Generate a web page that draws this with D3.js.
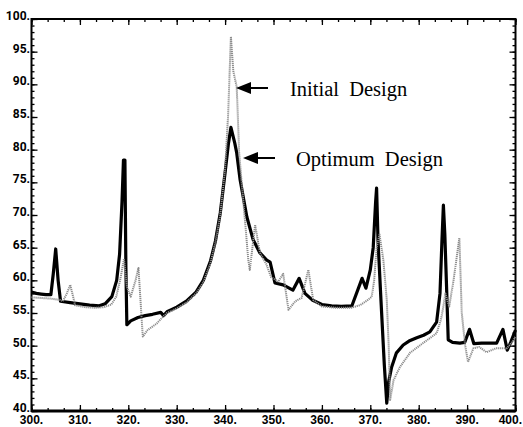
<!DOCTYPE html>
<html>
<head>
<meta charset="utf-8">
<script src="https://cdn.jsdelivr.net/npm/d3@7"></script>
<style>
  body { margin: 0; background: #fff; }
  svg { display: block; }
  .tick-label { font-family: "Liberation Sans", Arial, sans-serif; font-size: 12px; font-weight: bold; fill: #000; }
  .note { font-family: "Liberation Serif", "Times New Roman", serif; font-size: 20.5px; fill: #000; white-space: pre; }
</style>
</head>
<body>
<div id="chart"></div>
<script>
// Chart data
var optFreq = [300, 301, 302, 303, 304, 304.5, 305, 305.5, 306, 308, 310, 312, 314, 315.2, 316.6, 317.6, 318.2, 318.7, 319, 319.3, 319.5, 319.7,
  320.5, 322, 323.5, 325, 326.7, 327.3, 328, 330, 332, 334, 335.5, 337, 338, 339, 340, 340.7, 341.2, 342, 342.4, 343.1, 344.5, 345.8,
  347.2, 348.6, 349.3, 350.3, 352, 354, 355.3, 356.5, 358, 360, 362, 364, 366.2, 368.3, 369.1, 370, 370.6, 371.1, 371.3, 371.6, 372.2,
  372.9, 373.4, 373.8, 374.4, 375.4, 376.8, 378, 379.6, 381, 382.3, 383.7, 384.4, 384.8, 385.1, 385.4, 385.8, 386.1, 387, 388.5, 389.5,
  390.5, 391.4, 393, 396.1, 397.4, 398.3, 399, 400];
var optValue = [58.2, 58.0, 57.9, 57.8, 57.8, 61, 64.8, 60, 56.8, 56.6, 56.4, 56.2, 56.1, 56.4, 57.5, 60, 64, 72, 78.4, 78.4, 62, 53.2,
  53.8, 54.3, 54.6, 54.8, 55.1, 54.6, 55.2, 55.9, 56.8, 58.2, 60, 63, 66, 70.3, 76.5, 81, 83.4, 81, 79.5, 75.4, 69.7, 66.2,
  64.2, 63.1, 62.8, 59.6, 59.3, 58.5, 60.3, 58, 57, 56.3, 56.1, 56.0, 56.1, 60.3, 58.8, 61.6, 65, 72, 74.1, 66, 57,
  47, 41.2, 44.5, 46.7, 48.9, 50.1, 50.7, 51.2, 51.6, 52.1, 53.6, 58, 66, 71.5, 67, 58, 50.9, 50.5, 50.4, 50.5,
  52.5, 50.3, 50.4, 50.4, 52.5, 49.3, 50.5, 52.4];

var initFreq = [300, 302, 304, 306, 306.5, 307.3, 308, 308.6, 309, 311, 313, 315, 316.5, 317.5, 318.3, 318.8, 319.1, 319.7, 320.5, 321.5,
  322.1, 322.6, 323, 324, 325.9, 327, 328, 330, 332, 334, 335.5, 337, 338, 339, 340, 340.6, 341.2, 341.7, 342.4, 342.9, 343.8, 344.8,
  345.1, 346.2, 347.2, 348.5, 349.5, 351, 352, 353.1, 354.5, 355.8, 357.2, 358.2, 360, 363, 366, 367.9, 369.5, 370.3, 370.8, 371.3,
  371.9, 372.7, 373.4, 373.8, 374.1, 374.8, 376.1, 378.2, 380.9, 383.7, 384.6, 385.1, 385.5, 386.3, 387.2, 388.4, 388.9, 389.6, 390.2,
  391.3, 392.5, 394, 396, 398.2, 399.3, 400];
var initValue = [57.4, 57.3, 57.2, 57.0, 56.8, 58, 59.3, 57.5, 56.2, 55.9, 55.8, 55.9, 56.3, 57.5, 60, 62, 63.3, 59, 57.5, 60,
  61.9, 56, 51.4, 52.4, 53.4, 54.3, 55, 55.7, 56.6, 58, 59.7, 62.7, 65.8, 70, 77, 85, 97.3, 92, 89.6, 79.5, 71.8, 63.1,
  61.6, 68.5, 64.2, 62.5, 60.5, 59.8, 61, 55.5, 56.8, 57.3, 61.6, 57, 56, 55.8, 55.8, 56.2, 57, 57.5, 60, 65,
  67, 63.1, 57, 50, 41.7, 44.7, 46.7, 48.9, 50.4, 51.9, 54, 56, 58, 56, 60, 66.5, 55, 50, 47.5,
  49.6, 49.8, 49, 49.6, 49.6, 50.5, 51.3];

var xTicks = [300, 310, 320, 330, 340, 350, 360, 370, 380, 390, 400];
var yTicks = [40, 45, 50, 55, 60, 65, 70, 75, 80, 85, 90, 95, 100];

var width = 523, height = 427;
var margin = { top: 19, right: 7.5, bottom: 16, left: 31.5 };

var svg = d3.select("#chart").append("svg")
    .attr("width", width)
    .attr("height", height);

var x = d3.scaleLinear().domain([300, 400]).range([margin.left, width - margin.right]);
var y = d3.scaleLinear().domain([40, 100]).range([height - margin.bottom, margin.top]);

var fmt = function(d) { return d + "."; };

// minor ticks
var xMinor = d3.range(300, 400.01, 10 / 3);
var yMinor = d3.range(40, 100.01, 1);

function ticks(axis, tx, ty, values, size) {
    svg.append("g")
        .attr("transform", "translate(" + tx + "," + ty + ")")
        .call(axis.tickValues(values).tickSize(size).tickFormat(""))
        .call(g => g.select(".domain").remove())
        .call(g => g.selectAll(".tick line").attr("stroke", "#000").attr("stroke-width", 1.3));
}

ticks(d3.axisBottom(x), 0, y(40), xMinor, -3);
ticks(d3.axisBottom(x), 0, y(40), xTicks, -6);
ticks(d3.axisTop(x), 0, y(100), xMinor, -3);
ticks(d3.axisTop(x), 0, y(100), xTicks, -6);
ticks(d3.axisLeft(y), x(300), 0, yMinor, -3);
ticks(d3.axisLeft(y), x(300), 0, yTicks, -6);
ticks(d3.axisRight(y), x(400), 0, yMinor, -3);
ticks(d3.axisRight(y), x(400), 0, yTicks, -6);

// frame
svg.append("rect")
    .attr("x", x(300)).attr("y", y(100))
    .attr("width", x(400) - x(300)).attr("height", y(40) - y(100))
    .attr("fill", "none").attr("stroke", "#000").attr("stroke-width", 2);
svg.append("line")
    .attr("x1", x(300)).attr("x2", x(400)).attr("y1", y(40)).attr("y2", y(40))
    .attr("stroke", "#000").attr("stroke-width", 3);

var line = d3.line().x(d => x(d[0])).y(d => y(d[1]));

var optData = d3.zip(optFreq, optValue);
var initData = d3.zip(initFreq, initValue);

svg.append("path")
    .datum(optData)
    .attr("d", line)
    .attr("fill", "none")
    .attr("stroke", "#000")
    .attr("stroke-width", 3.2)
    .attr("stroke-linejoin", "round");

svg.append("path")
    .datum(initData)
    .attr("d", line)
    .attr("fill", "none")
    .attr("stroke", "#8c8c8c")
    .attr("stroke-width", 2)
    .attr("stroke-dasharray", "1.2 0.8")
    .attr("stroke-linejoin", "round");

// annotations
function arrow(tipX, tipY, tailX) {
    var g = svg.append("g");
    g.append("line")
        .attr("x1", tipX + 12).attr("x2", tailX)
        .attr("y1", tipY).attr("y2", tipY)
        .attr("stroke", "#000").attr("stroke-width", 2);
    g.append("path")
        .attr("d", "M" + tipX + "," + tipY + "L" + (tipX + 15) + "," + (tipY - 6) + "L" + (tipX + 15) + "," + (tipY + 6) + "Z")
        .attr("fill", "#000");
}

arrow(236, 88, 268);
svg.append("text").attr("class", "note").attr("x", 290).attr("y", 96).text("Initial  Design");

arrow(243, 158, 275);
svg.append("text").attr("class", "note").attr("x", 296).attr("y", 166).text("Optimum  Design");

// tick labels, drawn last
svg.append("g").selectAll("text").data(yTicks).enter().append("text")
    .attr("font-family", "Roboto, 'DejaVu Sans', sans-serif")
    .attr("font-size", 12)
    .attr("font-weight", "bold")
    .attr("fill", "#000")
    .attr("x", 30)
    .attr("y", d => y(d) + 1)
    .attr("text-anchor", "end")
    .text(fmt);
svg.append("g").selectAll("text").data(xTicks).enter().append("text")
    .attr("class", "tick-label")
    .attr("x", d => d === 400 ? width - 1 : x(d))
    .attr("y", y(40) + 13)
    .attr("text-anchor", d => d === 400 ? "end" : "middle")
    .text(fmt);
</script>
</body>
</html>
